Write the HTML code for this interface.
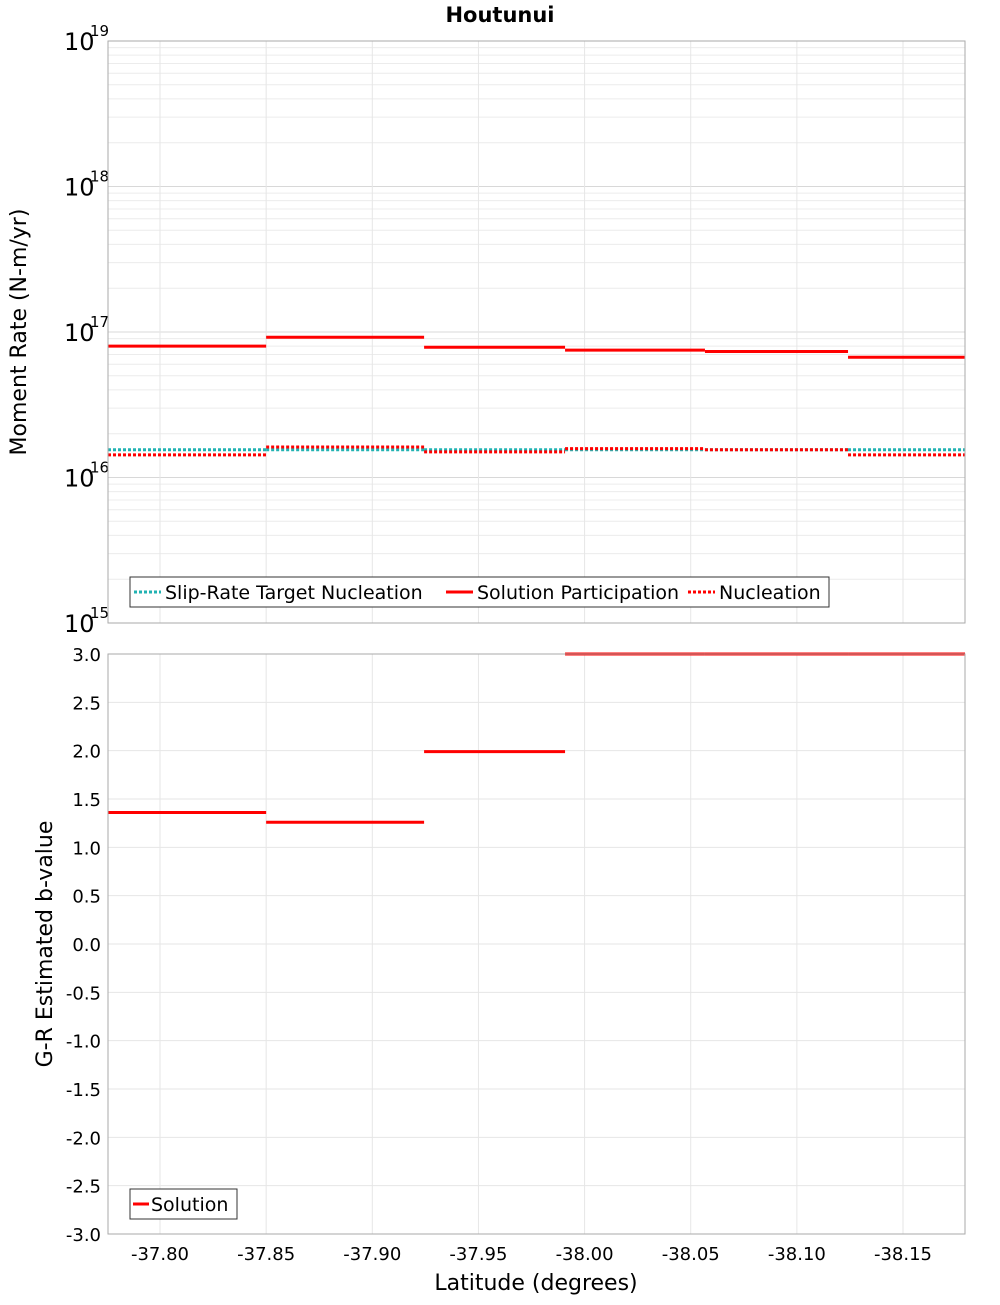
<!DOCTYPE html>
<html><head><meta charset="utf-8"><style>
body{margin:0;background:#fff;font-family:"Liberation Sans","DejaVu Sans",sans-serif}
svg text{font-family:"DejaVu Sans","Liberation Sans",sans-serif}
</style></head><body>
<svg id="c" width="1000" height="1300" xmlns="http://www.w3.org/2000/svg">
<text x="500" y="22" text-anchor="middle" font-size="21" font-weight="bold">Houtunui</text>
<g id="gtop"></g><g id="gbot"></g>
</svg>
<script>
const edges=[-37.7755,-37.85,-37.9244,-37.9908,-38.0567,-38.1241,-38.1792];
const participation=[8.0e16,9.2e16,7.85e16,7.5e16,7.35e16,6.7e16];
const targetNucleation=[1.55e16,1.55e16,1.55e16,1.55e16,1.55e16,1.55e16];
const nucleation=[1.43e16,1.62e16,1.5e16,1.58e16,1.55e16,1.43e16];
const bValues=[1.36,1.26,1.99,3.0,3.0,3.0];
const xTicks=[-37.80,-37.85,-37.90,-37.95,-38.00,-38.05,-38.10,-38.15];
const logTicks=[15,16,17,18,19];
const bTicks=[-3,-2.5,-2,-1.5,-1,-0.5,0,0.5,1,1.5,2,2.5,3];
{
const NS="http://www.w3.org/2000/svg";
const L=108,R=965,T1=41,B1=623,T2=654,B2=1234;
const X=v=>L+(v-edges[0])/(edges[6]-edges[0])*(R-L);
const Y1=v=>B1-(Math.log10(v)-15)/4*(B1-T1);
const Y2=v=>B2-(v+3)/6*(B2-T2);
function mk(p,t,a){const e=document.createElementNS(NS,t);for(const k in a)e.setAttribute(k,a[k]);p.appendChild(e);return e;}
const gTop=document.getElementById('gtop'),gBot=document.getElementById('gbot');
for(let d=15;d<19;d++)for(let m=1;m<10;m++){const y=Y1(m*Math.pow(10,d));
const g=mk(gTop,'line',{x1:L,x2:R,y1:y,y2:y,stroke:m==1?'#d8d8d8':'#ececec','stroke-width':1});

}
for(const t of bTicks){const y=Y2(t);
const g=mk(gBot,'line',{x1:L,x2:R,y1:y,y2:y,stroke:'#e6e6e6'});


const tx=mk(gBot,'text',{x:101,y:y+7,'text-anchor':'end','font-size':18});tx.textContent=t.toFixed(1);

}
for(const t of xTicks){const x=X(t);
for(const [p,a,b] of [[gTop,T1,B1],[gBot,T2,B2]]){const g=mk(p,'line',{x1:x,x2:x,y1:a,y2:b,stroke:'#e6e6e6'});

}
const tx=mk(gBot,'text',{x:x,y:1260,'text-anchor':'middle','font-size':18});tx.textContent=t.toFixed(2);

}
for(const d of logTicks){const y=Y1(Math.pow(10,d));
const tx=mk(gTop,'text',{x:64,y:y+9,'font-size':24});tx.textContent='10';


const s=mk(gTop,'text',{x:90,y:y-5,'font-size':15});s.textContent=String(d);

}
function series(p,arr,Y,color,dash,w,name){for(let i=0;i<arr.length;i++){
const a={x1:X(edges[i]),x2:X(edges[i+1]),y1:Y(arr[i]),y2:Y(arr[i]),stroke:color,'stroke-width':w};
if(dash)a['stroke-dasharray']=dash;const l=mk(p,'line',a);

}}
series(gTop,targetNucleation,Y1,'#20b2b2','3,2',3,'target-nucleation');
series(gTop,nucleation,Y1,'#ff0000','3,2',3,'nucleation');
series(gTop,participation,Y1,'#ff0000',null,3,'participation');
series(gBot,bValues.map(v=>Math.min(v,3)),Y2,'#ff0000',null,3,'b-value');
for(const [p,a,b,n] of [[gTop,T1,B1,'top-plot-frame'],[gBot,T2,B2,'bottom-plot-frame']]){
const r=mk(p,'rect',{x:L,y:a,width:R-L,height:b-a,fill:'none',stroke:'#aaa'});

}
const lg=mk(gTop,'g',{});


mk(lg,'rect',{x:130,y:577,width:699,height:30,fill:'#fff',stroke:'#333'});
const items=[[134,'#20b2b2','3,2','Slip-Rate Target Nucleation'],[446,'#ff0000',null,'Solution Participation'],[688,'#ff0000','3,2','Nucleation']];
for(const [x,c,d,t] of items){const a={x1:x,x2:x+27,y1:592,y2:592,stroke:c,'stroke-width':3};if(d)a['stroke-dasharray']=d;mk(lg,'line',a);
const tx=mk(lg,'text',{x:x+31,y:599,'font-size':19});tx.textContent=t;

}
const lb=mk(gBot,'g',{});


mk(lb,'rect',{x:130,y:1189,width:107,height:30,fill:'#fff',stroke:'#333'});
mk(lb,'line',{x1:133,x2:149,y1:1204,y2:1204,stroke:'#ff0000','stroke-width':3});
const st=mk(lb,'text',{x:151,y:1211,'font-size':19});st.textContent='Solution';


const yt=mk(gTop,'text',{x:0,y:0,'font-size':22,'text-anchor':'middle',transform:'translate(26,332) rotate(-90)'});yt.textContent='Moment Rate (N-m/yr)';


const yb=mk(gBot,'text',{x:0,y:0,'font-size':22,'text-anchor':'middle',transform:'translate(52,944) rotate(-90)'});yb.textContent='G-R Estimated b-value';


const xt=mk(gBot,'text',{x:536,y:1290,'font-size':22,'text-anchor':'middle'});xt.textContent='Latitude (degrees)';


}
</script>
</body></html>
